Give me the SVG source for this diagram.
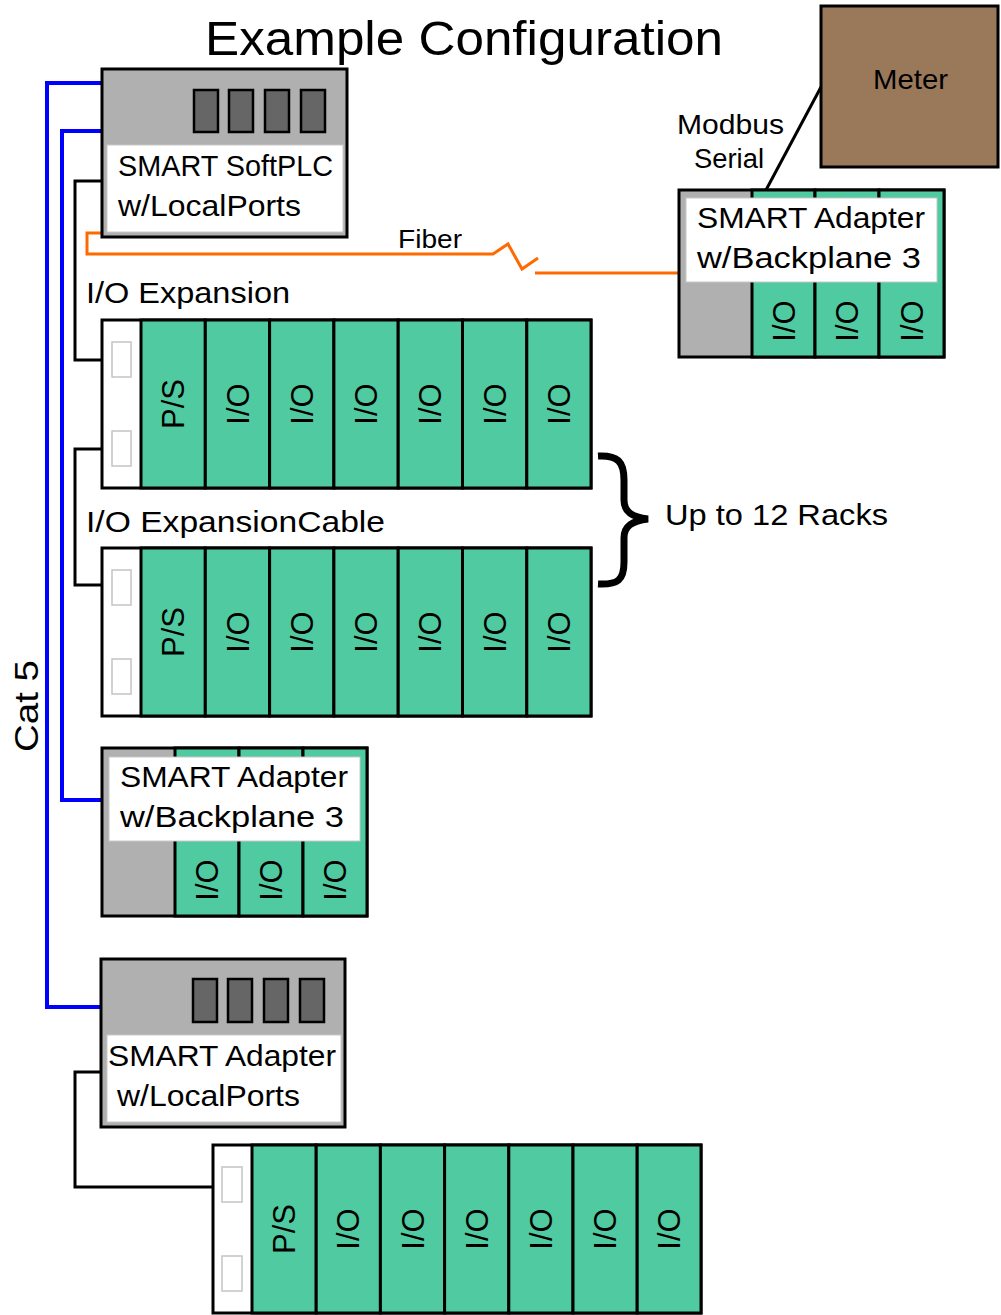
<svg xmlns="http://www.w3.org/2000/svg" width="1001" height="1315" viewBox="0 0 1001 1315">
<style>
text{font-family:"Liberation Sans",Arial,sans-serif;fill:#000}
.box{stroke:#000;stroke-width:3}
.gray{fill:#b0b0b0}
.grn{fill:#50cba1}
.wht{fill:#fff}
.lbl{fill:#fff;stroke:#c8c8c8;stroke-width:1}
.port{fill:#666;stroke:#000;stroke-width:2.5}
.slot{fill:#fff;stroke:#c4c4c4;stroke-width:1.5}
.t30{font-size:30px}
.mod{font-size:31px;text-anchor:middle}
.blue{fill:none;stroke:#0000ff;stroke-width:4}
.blk{fill:none;stroke:#000;stroke-width:3}
.org{fill:none;stroke:#ff6a00;stroke-width:3}
</style>
<rect width="1001" height="1315" fill="#fff"/>
<text x="205" y="55" font-size="48" textLength="518" lengthAdjust="spacingAndGlyphs">Example Configuration</text>

<g id="connectors">
<polyline class="blue" points="102,83 47,83 47,1007 102,1007"/>
<polyline class="blue" points="102,131 62,131 62,800 102,800"/>
<polyline class="blk" points="102,181 75,181 75,360 102,360"/>
<polyline class="blk" points="102,449 75,449 75,585 102,585"/>
<polyline class="blk" points="101,1072 75,1072 75,1187 213,1187"/>
<polyline class="org" points="102,233 87,233 87,254 493,254 508,244 522,269 538,258"/>
<line class="org" x1="535" y1="273" x2="680" y2="273"/>
<line class="blk" x1="821" y1="87" x2="766" y2="190"/>
<path d="M598,456 C618,455 624,462 624,480 L624,500 C624,512 632,517 648,519 C632,521 624,526 624,538 L624,562 C624,580 618,585 598,584" fill="none" stroke="#000" stroke-width="7"/>
<text x="398" y="248" font-size="25" textLength="64" lengthAdjust="spacingAndGlyphs">Fiber</text>
<text x="677" y="134" font-size="27" textLength="107" lengthAdjust="spacingAndGlyphs">Modbus</text>
<text x="694" y="168" font-size="27" textLength="70" lengthAdjust="spacingAndGlyphs">Serial</text>
<text x="86" y="303" class="t30" textLength="204" lengthAdjust="spacingAndGlyphs">I/O Expansion</text>
<text x="86" y="532" class="t30" textLength="299" lengthAdjust="spacingAndGlyphs">I/O ExpansionCable</text>
<text x="665" y="525" class="t30" textLength="223" lengthAdjust="spacingAndGlyphs">Up to 12 Racks</text>
<text transform="translate(38,752) rotate(-90)" font-size="34" textLength="92" lengthAdjust="spacingAndGlyphs">Cat 5</text>
</g>

<g id="softplc">
<rect class="box gray" x="102" y="69" width="245" height="168"/>
<rect class="port" x="194" y="90" width="24" height="42"/>
<rect class="port" x="229" y="90" width="24" height="42"/>
<rect class="port" x="265" y="90" width="24" height="42"/>
<rect class="port" x="301" y="90" width="24" height="42"/>
<rect class="lbl" x="107" y="145" width="236" height="87"/>
<text x="118" y="176" class="t30" textLength="215" lengthAdjust="spacingAndGlyphs">SMART SoftPLC</text>
<text x="118" y="216" class="t30" textLength="183" lengthAdjust="spacingAndGlyphs">w/LocalPorts</text>
</g>

<g id="meter">
<rect class="box" fill="#9a795b" x="821" y="6" width="177" height="161"/>
<text x="873" y="89" font-size="28" textLength="75" lengthAdjust="spacingAndGlyphs">Meter</text>
</g>

<g id="adapter-right">
<rect class="box gray" x="679" y="190" width="265" height="167"/>
<rect class="box grn" x="752" y="190" width="63" height="167"/>
<rect class="box grn" x="815" y="190" width="64" height="167"/>
<rect class="box grn" x="879" y="190" width="65" height="167"/>
<rect class="lbl" x="686" y="198" width="251" height="84"/>
<text x="697" y="228" class="t30" textLength="228" lengthAdjust="spacingAndGlyphs">SMART Adapter</text>
<text x="697" y="268" class="t30" textLength="224" lengthAdjust="spacingAndGlyphs">w/Backplane 3</text>
<text class="mod" transform="translate(783.5,321) rotate(-90)" dy="11">I/O</text>
<text class="mod" transform="translate(847,321) rotate(-90)" dy="11">I/O</text>
<text class="mod" transform="translate(911.5,321) rotate(-90)" dy="11">I/O</text>
</g>

<g id="rack1">
<rect class="box wht" x="102" y="320" width="489" height="168"/>
<rect class="slot" x="112" y="342" width="19" height="35"/>
<rect class="slot" x="112" y="431" width="19" height="35"/>
<rect class="box grn" x="141" y="320" width="64.3" height="168"/>
<rect class="box grn" x="205.3" y="320" width="64.3" height="168"/>
<rect class="box grn" x="269.6" y="320" width="64.3" height="168"/>
<rect class="box grn" x="333.9" y="320" width="64.3" height="168"/>
<rect class="box grn" x="398.2" y="320" width="64.3" height="168"/>
<rect class="box grn" x="462.5" y="320" width="64.3" height="168"/>
<rect class="box grn" x="526.8" y="320" width="64.2" height="168"/>
<text class="mod" transform="translate(173.2,404) rotate(-90)" dy="11">P/S</text>
<text class="mod" transform="translate(237.5,404) rotate(-90)" dy="11">I/O</text>
<text class="mod" transform="translate(301.8,404) rotate(-90)" dy="11">I/O</text>
<text class="mod" transform="translate(366.1,404) rotate(-90)" dy="11">I/O</text>
<text class="mod" transform="translate(430.4,404) rotate(-90)" dy="11">I/O</text>
<text class="mod" transform="translate(494.7,404) rotate(-90)" dy="11">I/O</text>
<text class="mod" transform="translate(559,404) rotate(-90)" dy="11">I/O</text>
</g>

<g id="rack2">
<rect class="box wht" x="102" y="548" width="489" height="168"/>
<rect class="slot" x="112" y="570" width="19" height="35"/>
<rect class="slot" x="112" y="659" width="19" height="35"/>
<rect class="box grn" x="141" y="548" width="64.3" height="168"/>
<rect class="box grn" x="205.3" y="548" width="64.3" height="168"/>
<rect class="box grn" x="269.6" y="548" width="64.3" height="168"/>
<rect class="box grn" x="333.9" y="548" width="64.3" height="168"/>
<rect class="box grn" x="398.2" y="548" width="64.3" height="168"/>
<rect class="box grn" x="462.5" y="548" width="64.3" height="168"/>
<rect class="box grn" x="526.8" y="548" width="64.2" height="168"/>
<text class="mod" transform="translate(173.2,632) rotate(-90)" dy="11">P/S</text>
<text class="mod" transform="translate(237.5,632) rotate(-90)" dy="11">I/O</text>
<text class="mod" transform="translate(301.8,632) rotate(-90)" dy="11">I/O</text>
<text class="mod" transform="translate(366.1,632) rotate(-90)" dy="11">I/O</text>
<text class="mod" transform="translate(430.4,632) rotate(-90)" dy="11">I/O</text>
<text class="mod" transform="translate(494.7,632) rotate(-90)" dy="11">I/O</text>
<text class="mod" transform="translate(559,632) rotate(-90)" dy="11">I/O</text>
</g>

<g id="adapter-left">
<rect class="box gray" x="102" y="748" width="265" height="168"/>
<rect class="box grn" x="175" y="748" width="64" height="168"/>
<rect class="box grn" x="239" y="748" width="64" height="168"/>
<rect class="box grn" x="303" y="748" width="64" height="168"/>
<rect class="lbl" x="109" y="757" width="251" height="84"/>
<text x="120" y="787" class="t30" textLength="228" lengthAdjust="spacingAndGlyphs">SMART Adapter</text>
<text x="120" y="827" class="t30" textLength="224" lengthAdjust="spacingAndGlyphs">w/Backplane 3</text>
<text class="mod" transform="translate(207,880) rotate(-90)" dy="11">I/O</text>
<text class="mod" transform="translate(271,880) rotate(-90)" dy="11">I/O</text>
<text class="mod" transform="translate(335,880) rotate(-90)" dy="11">I/O</text>
</g>

<g id="adapter-localports">
<rect class="box gray" x="101" y="959" width="244" height="168"/>
<rect class="port" x="193" y="979" width="24" height="43"/>
<rect class="port" x="228" y="979" width="24" height="43"/>
<rect class="port" x="264" y="979" width="24" height="43"/>
<rect class="port" x="300" y="979" width="24" height="43"/>
<rect class="lbl" x="107" y="1035" width="234" height="87"/>
<text x="108" y="1066" class="t30" textLength="228" lengthAdjust="spacingAndGlyphs">SMART Adapter</text>
<text x="117" y="1106" class="t30" textLength="183" lengthAdjust="spacingAndGlyphs">w/LocalPorts</text>
</g>

<g id="rack3">
<rect class="box wht" x="213" y="1145" width="488" height="168"/>
<rect class="slot" x="222" y="1167" width="20" height="35"/>
<rect class="slot" x="222" y="1256" width="20" height="35"/>
<rect class="box grn" x="252" y="1145" width="64.2" height="168"/>
<rect class="box grn" x="316.2" y="1145" width="64.2" height="168"/>
<rect class="box grn" x="380.4" y="1145" width="64.2" height="168"/>
<rect class="box grn" x="444.6" y="1145" width="64.2" height="168"/>
<rect class="box grn" x="508.8" y="1145" width="64.2" height="168"/>
<rect class="box grn" x="573" y="1145" width="64.2" height="168"/>
<rect class="box grn" x="637.2" y="1145" width="63.8" height="168"/>
<text class="mod" transform="translate(284.1,1229) rotate(-90)" dy="11">P/S</text>
<text class="mod" transform="translate(348.3,1229) rotate(-90)" dy="11">I/O</text>
<text class="mod" transform="translate(412.5,1229) rotate(-90)" dy="11">I/O</text>
<text class="mod" transform="translate(476.7,1229) rotate(-90)" dy="11">I/O</text>
<text class="mod" transform="translate(540.9,1229) rotate(-90)" dy="11">I/O</text>
<text class="mod" transform="translate(605.1,1229) rotate(-90)" dy="11">I/O</text>
<text class="mod" transform="translate(669.1,1229) rotate(-90)" dy="11">I/O</text>
</g>
</svg>
